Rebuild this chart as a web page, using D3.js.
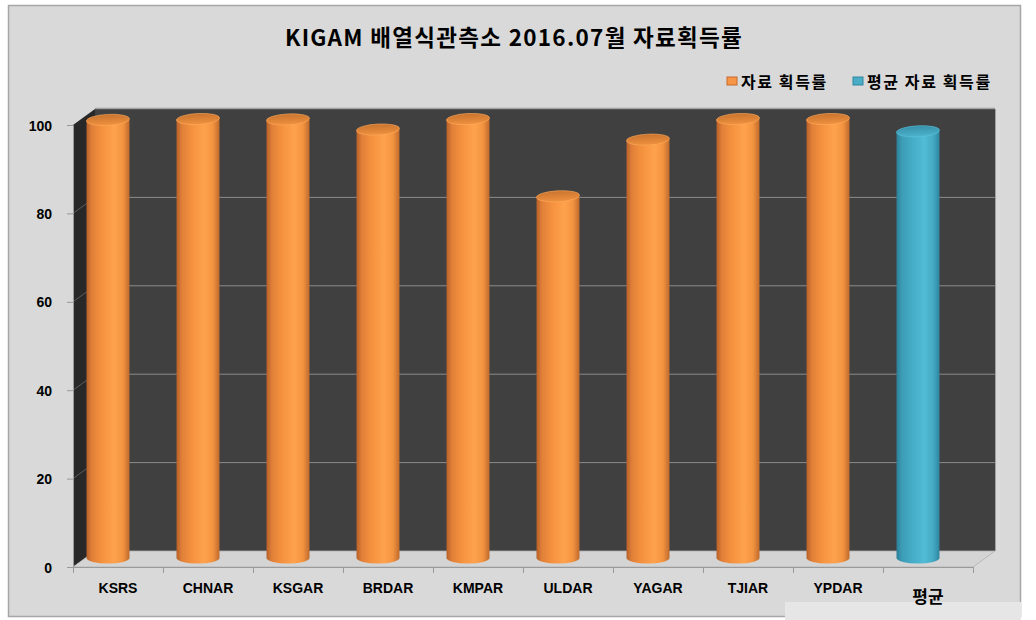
<!DOCTYPE html>
<html><head><meta charset="utf-8">
<script src="https://cdn.jsdelivr.net/npm/d3@7"></script>
<style>body{margin:0;background:#fff}svg{display:block}</style>
</head><body>
<svg id="c" width="1036" height="620"></svg>
<script>
const categories = ["KSRS","CHNAR","KSGAR","BRDAR","KMPAR","ULDAR","YAGAR","TJIAR","YPDAR","평균"];
const values = [99.8,100,99.9,97.6,100,82.4,95.3,100,100,97.2];
const seriesOf = ["rate","rate","rate","rate","rate","rate","rate","rate","rate","avg"];
const yTicks = [0,20,40,60,80,100];
const legendLabels = ["자료 획득률","평균 자료 획득률"];
const title = "KIGAM 배열식관측소 2016.07월 자료획득률";

const svg = d3.select("#c");
const font = "'Liberation Sans', 'Noto Sans CJK KR', sans-serif";
const kfont = "'Noto Sans CJK KR', 'Liberation Sans', sans-serif";

// frame
svg.append("rect").attr("x",8.5).attr("y",5.5).attr("width",1012).attr("height",611)
  .attr("fill","#d9d9d9").attr("stroke","#a6a6a6").attr("stroke-width",1.5);
svg.append("rect").attr("x",785).attr("y",602).attr("width",236).attr("height",18).attr("fill","#e6e6e6");

const x = d3.scaleBand().domain(categories).range([73,973]).padding(0);
const y = d3.scaleLinear().domain([0,100]).range([567,125]);
const yBar = d3.scaleLinear().domain([0,100]).range([558,119]);
const dX = 22, dY = -16;

// defs
const defs = svg.append("defs");
function hgrad(id, stops){
  const g = defs.append("linearGradient").attr("id",id).attr("x1","0").attr("x2","1").attr("y1","0").attr("y2","0");
  stops.forEach(s=>g.append("stop").attr("offset",s[0]).attr("stop-color",s[1]));
}
hgrad("gOr",[[0,"#b5602a"],[0.12,"#e07f38"],[0.35,"#f4913f"],[0.65,"#ffa24e"],[0.85,"#f29340"],[1,"#bf6a2c"]]);
hgrad("gBl",[[0,"#2b7f97"],[0.12,"#3c9cb6"],[0.35,"#45abc6"],[0.65,"#52bbd5"],[0.85,"#46aac4"],[1,"#2f86a0"]]);
const vg = (id,a,b)=>{const g=defs.append("linearGradient").attr("id",id).attr("x1","0").attr("x2","0").attr("y1","0").attr("y2","1");
  g.append("stop").attr("offset",0).attr("stop-color",a);g.append("stop").attr("offset",1).attr("stop-color",b);};
vg("tOr","#c8732f","#f0923f");
vg("tBl","#3690aa","#4db3cd");

// back wall
svg.append("rect").attr("x",73+dX).attr("y",y(100)+dY).attr("width",900).attr("height",y(0)-y(100))
  .attr("fill","#404040");
svg.append("line").attr("x1",73+dX).attr("x2",973+dX).attr("y1",y(100)+dY-0.5).attr("y2",y(100)+dY-0.5)
  .attr("stroke","#a0a0a0").attr("stroke-width",1.5);
svg.append("line").attr("x1",973+dX+0.5).attr("x2",973+dX+0.5).attr("y1",y(100)+dY).attr("y2",y(0)+dY)
  .attr("stroke","#a0a0a0").attr("stroke-width",1);
// side wall
svg.append("path").attr("d",`M73,${y(100)} L${73+dX},${y(100)+dY} L${73+dX},${y(0)+dY} L73,${y(0)} Z`).attr("fill","#282828");
// floor
svg.append("path").attr("d",`M73,${y(0)} L${73+dX},${y(0)+dY} L${973+dX},${y(0)+dY} L973,${y(0)} Z`)
  .attr("fill","#d4d4d4").attr("stroke","#b0b0b0").attr("stroke-width",0.8);

// gridlines
yTicks.filter(t=>t>0 && t<100).forEach(t=>{
  svg.append("line").attr("x1",73+dX).attr("x2",973+dX).attr("y1",y(t)+dY).attr("y2",y(t)+dY)
    .attr("stroke","#8a8a8a").attr("stroke-width",1);
  svg.append("line").attr("x1",73).attr("x2",73+dX).attr("y1",y(t)).attr("y2",y(t)+dY)
    .attr("stroke","#6a6a6a").attr("stroke-width",0.8);
});

// y axis
const yAxis = d3.axisLeft(y).tickValues(yTicks).tickSize(6).tickPadding(15);
const ya = svg.append("g").attr("transform","translate(73,0)").call(yAxis);
ya.select(".domain").attr("stroke","#9a9a9a");
ya.selectAll(".tick line").attr("stroke","#9a9a9a");
ya.selectAll("text").attr("font-family",font).attr("font-size",14).attr("font-weight","bold").attr("fill","#000").attr("dy","0.36em");

// x axis
const xAxis = d3.axisBottom(x).tickSize(0).tickPadding(0);
const xa = svg.append("g").attr("transform",`translate(0,${y(0)})`).call(xAxis);
xa.select(".domain").attr("stroke","#9a9a9a");
xa.selectAll(".tick text").remove();
categories.concat([null]).forEach((c,i)=>{
  const xx = c===null ? x.range()[1] : x(c);
  xa.append("line").attr("x1",xx+0.5).attr("x2",xx+0.5).attr("y1",0).attr("y2",6).attr("stroke","#9a9a9a");
});
categories.forEach((c,i)=>{
  const isAvg = seriesOf[i]==="avg";
  svg.append("text").attr("x",x(c)+x.bandwidth()/2).attr("y",isAvg?603:593)
    .attr("text-anchor","middle").attr("font-family",isAvg?kfont:font)
    .attr("font-size",isAvg?17:14).attr("font-weight","bold").attr("fill","#000").text(c);
});

// bars
const rx = 21.5, ry = 5.5, shift = -10;
const bars = svg.append("g");
categories.forEach((c,i)=>{
  const cx = x(c)+x.bandwidth()/2+shift;
  const yt = yBar(values[i]), yb = yBar(0);
  const avg = seriesOf[i]==="avg";
  const g = bars.append("g");
  g.append("path").attr("d",`M${cx-rx},${yt} L${cx-rx},${yb} A${rx},${ry} 0 0 0 ${cx+rx},${yb} L${cx+rx},${yt} Z`)
    .attr("fill",avg?"url(#gBl)":"url(#gOr)");
  g.append("ellipse").attr("cx",cx).attr("cy",yt).attr("rx",rx).attr("ry",ry)
    .attr("transform",`rotate(-3 ${cx} ${yt})`)
    .attr("fill",avg?"url(#tBl)":"url(#tOr)").attr("stroke",avg?"#5cc3dc":"#ffab5a").attr("stroke-width",0.6);
});

// title
svg.append("text").attr("x",514).attr("y",46).attr("text-anchor","middle")
  .attr("font-family",kfont).attr("font-size",22.5).attr("letter-spacing",1.3).attr("font-weight","bold").attr("fill","#000").text(title);

// legend
const legColors = [["#f79646","#c66a2a"],["#4bacc6","#2f88a2"]];
const legX = [727,853];
legendLabels.forEach((l,i)=>{
  svg.append("rect").attr("x",legX[i]).attr("y",77).attr("width",10).attr("height",8)
    .attr("fill",legColors[i][0]).attr("stroke",legColors[i][1]).attr("stroke-width",1);
  svg.append("text").attr("x",legX[i]+14).attr("y",88).attr("font-family",kfont).attr("font-size",16)
    .attr("letter-spacing",1.6).attr("font-weight","bold").attr("fill","#000").text(l);
});
</script>
</body></html>
